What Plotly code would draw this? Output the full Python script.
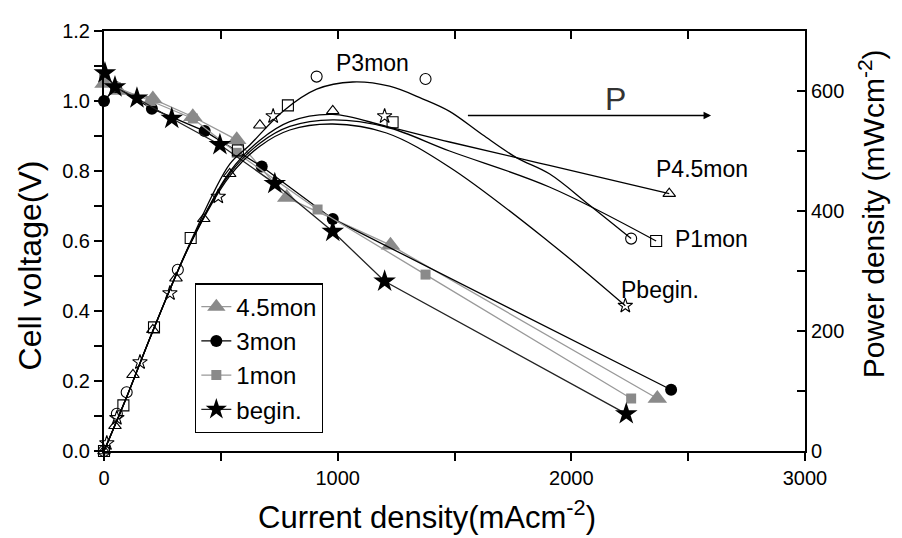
import plotly.graph_objects as go

# ---------------- data ----------------
# Cell voltage (filled markers)
cur_45 = [0, 60, 209, 380, 568, 782, 1226, 2368]
volt_45 = [1.05, 1.03, 1.006, 0.955, 0.889, 0.724, 0.588, 0.150]

cur_3 = [0, 50, 205, 431, 675, 979, 2427]
volt_3 = [1.00, 1.04, 0.978, 0.914, 0.813, 0.663, 0.175]

cur_1 = [0, 50, 200, 380, 568, 914, 1376, 2256]
volt_1 = [1.07, 1.04, 1.00, 0.95, 0.852, 0.690, 0.504, 0.150]

cur_b = [4, 47, 141, 290, 496, 731, 979, 1201, 2235]
volt_b = [1.08, 1.04, 1.008, 0.950, 0.875, 0.764, 0.627, 0.485, 0.106]

# Power density (hollow markers)
pcur_45 = [0, 47, 124, 209, 308, 427, 538, 667, 979, 2419]
pow_45 = [0, 42, 127, 202, 288, 387, 462, 543, 567, 429]

pcur_3 = [0, 55, 97, 316, 910, 1376, 2256]
pow_3 = [0, 62, 98, 302, 624, 620, 354]

pcur_1 = [0, 83, 214, 371, 573, 787, 1235, 2363]
pow_1 = [0, 76, 206, 355, 501, 576, 548, 350]

pcur_b = [12, 55, 154, 282, 489, 724, 1201, 2231]
pow_b = [13, 55, 148, 263, 424, 558, 558, 242]

# Fitted power curves
fitA_x = [0, 98, 209, 372, 538, 624, 765, 910, 1064, 1222, 1363, 1479, 1620, 1765, 1906, 2077, 2256]
fitA_p = [0, 91, 200, 350, 478, 510, 566, 603, 615, 608, 587, 566, 527, 489, 462, 410, 354]

fitB_x = [0, 98, 209, 372, 538, 667, 795, 979, 1209, 1479, 1906, 2419]
fitB_p = [0, 91, 200, 348, 465, 518, 549, 561, 541, 515, 476, 429]

fitC_x = [0, 98, 209, 372, 538, 667, 795, 979, 1209, 1479, 1906, 2363]
fitC_p = [0, 91, 200, 348, 462, 513, 541, 552, 540, 500, 440, 350]

fitD_x = [0, 98, 209, 372, 538, 667, 795, 979, 1209, 1479, 1906, 2231]
fitD_p = [0, 91, 200, 347, 458, 508, 535, 545, 530, 473, 348, 242]

GRAY = "#8a8a8a"
GRAYL = "#999999"
FONT = "Arial, 'Liberation Sans', sans-serif"

fig = go.Figure()

# ---- fitted power curves ----
for fx, fp in [(fitA_x, fitA_p), (fitB_x, fitB_p), (fitC_x, fitC_p), (fitD_x, fitD_p)]:
    fig.add_trace(go.Scatter(x=fx, y=fp, mode="lines", yaxis="y2",
                             line=dict(color="black", width=1.3, shape="spline", smoothing=1.0),
                             showlegend=False, hoverinfo="skip"))

# ---- power hollow markers ----
for px_, py_, sym in [(pcur_45, pow_45, "triangle-up-open"), (pcur_3, pow_3, "circle-open"),
                      (pcur_1, pow_1, "square-open"), (pcur_b, pow_b, "star-open")]:
    fig.add_trace(go.Scatter(x=px_, y=py_, mode="markers", yaxis="y2", cliponaxis=False,
                             marker=dict(symbol=sym, size=11, color="black", line=dict(width=1.1, color="black")),
                             showlegend=False))

# ---- voltage curves ----
fig.add_trace(go.Scatter(x=cur_45, y=volt_45, mode="lines+markers", name="4.5mon", cliponaxis=False,
                         line=dict(color=GRAYL, width=1.3),
                         marker=dict(symbol="triangle-up", size=17, color=GRAY)))
fig.add_trace(go.Scatter(x=cur_3, y=volt_3, mode="lines+markers", name="3mon", cliponaxis=False,
                         line=dict(color="black", width=1.3),
                         marker=dict(symbol="circle", size=12, color="black")))
fig.add_trace(go.Scatter(x=cur_1, y=volt_1, mode="lines+markers", name="1mon", cliponaxis=False,
                         line=dict(color=GRAYL, width=1.3),
                         marker=dict(symbol="square", size=10, color=GRAY)))
fig.add_trace(go.Scatter(x=cur_b, y=volt_b, mode="lines+markers", name="begin.", cliponaxis=False,
                         line=dict(color="#222222", width=1.3),
                         marker=dict(symbol="star", size=17, color="black")))

# dummy trace to show top axis
fig.add_trace(go.Scatter(x=[0], y=[None], xaxis="x2", showlegend=False, hoverinfo="skip"))

tickfont = dict(family=FONT, size=20, color="black")

fig.update_layout(
    width=886, height=530,
    margin=dict(l=96, r=89, t=12, b=87),
    plot_bgcolor="white", paper_bgcolor="white",
    font=dict(family=FONT, color="black"),
    xaxis=dict(range=[0, 3000], dtick=1000, tick0=0, showgrid=False, zeroline=False,
               showline=True, linecolor="black", linewidth=2,
               ticks="outside", ticklen=8, tickwidth=2, tickcolor="black",
               minor=dict(dtick=500, ticks="outside", ticklen=8, tickwidth=2, tickcolor="black"),
               tickfont=tickfont),
    xaxis2=dict(range=[0, 3000], overlaying="x", side="top", showgrid=False, zeroline=False,
                showline=True, linecolor="black", linewidth=2, showticklabels=False,
                ticks="inside", dtick=500, tick0=0, ticklen=8, tickwidth=2, tickcolor="black"),
    yaxis=dict(range=[0, 1.2], dtick=0.2, tick0=0, showgrid=False, zeroline=False,
               showline=True, linecolor="black", linewidth=2,
               ticks="outside", ticklen=8, tickwidth=2, tickcolor="black",
               minor=dict(dtick=0.1, ticks="outside", ticklen=8, tickwidth=2, tickcolor="black"),
               tickformat=".1f", tickfont=tickfont),
    yaxis2=dict(range=[0, 700], dtick=200, tick0=0, overlaying="y", side="right",
                showgrid=False, zeroline=False,
                showline=True, linecolor="black", linewidth=2,
                ticks="inside", ticklen=8, tickwidth=2, tickcolor="black",
                minor=dict(dtick=100, ticks="inside", ticklen=8, tickwidth=2, tickcolor="black"),
                tickfont=tickfont),
    legend=dict(x=0.13, y=0.399, xanchor="left", yanchor="top",
                bordercolor="black", borderwidth=1.2, bgcolor="white",
                font=dict(family=FONT, size=24, color="black"),
                tracegroupgap=0, itemsizing="trace"),
    showlegend=True,
)

# axis titles
fig.add_annotation(x=0.461, y=-0.152, xref="paper", yref="paper", xanchor="center", yanchor="middle",
                   showarrow=False, text="Current density(mAcm<sup>-2</sup>)",
                   font=dict(family=FONT, size=31, color="black"))
fig.add_annotation(x=-0.106, y=0.441, xref="paper", yref="paper", xanchor="center", yanchor="middle",
                   showarrow=False, textangle=-90,
                   text="Cell voltage(V)", font=dict(family=FONT, size=32, color="black"))
fig.add_annotation(x=1.0956, y=0.564, xref="paper", yref="paper", xanchor="center", yanchor="middle",
                   showarrow=False, textangle=-90,
                   text="Power density (mWcm<sup>-2</sup>)", font=dict(family=FONT, size=30, color="black"))

ann_font = dict(family=FONT, size=23, color="black")
fig.add_annotation(x=1150, y=647, xref="x", yref="y2", text="P3mon", showarrow=False, font=ann_font)
fig.add_annotation(x=2560, y=470, xref="x", yref="y2", text="P4.5mon", showarrow=False, font=ann_font)
fig.add_annotation(x=2600, y=353, xref="x", yref="y2", text="P1mon", showarrow=False, font=ann_font)
fig.add_annotation(x=2380, y=268, xref="x", yref="y2", text="Pbegin.", showarrow=False, font=ann_font)
fig.add_annotation(x=2188, y=586, xref="x", yref="y2", text="P", showarrow=False,
                   font=dict(family=FONT, size=32, color="#333333"))
fig.add_annotation(x=2598, y=559, xref="x", yref="y2", ax=1551, ay=559, axref="x", ayref="y2",
                   text="", showarrow=True, arrowhead=2, arrowsize=1, arrowwidth=1.5, arrowcolor="black")

fig.write_html("out.html")
